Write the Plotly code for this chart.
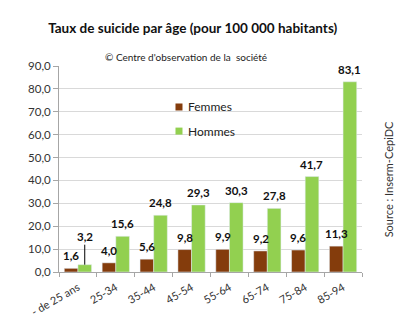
import plotly.graph_objects as go

# Age groups and suicide rates per 100 000 inhabitants
age_groups = ["- de 25 ans", "25-34", "35-44", "45-54", "55-64", "65-74", "75-84", "85-94"]
femmes = [1.6, 4.0, 5.6, 9.8, 9.9, 9.2, 9.6, 11.3]
hommes = [3.2, 15.6, 24.8, 29.3, 30.3, 27.8, 41.7, 83.1]
y_ticks = [0, 10, 20, 30, 40, 50, 60, 70, 80, 90]
series_names = ["Femmes", "Hommes"]

BROWN = "#843C0C"
GREEN = "#92D050"
FONT = "Lato, 'Liberation Sans', Arial, sans-serif"

fig = go.Figure()
fig.add_trace(go.Bar(x=age_groups, y=femmes, name=series_names[0], marker_color=BROWN,
                     showlegend=False))
fig.add_trace(go.Bar(x=age_groups, y=hommes, name=series_names[1], marker_color=GREEN,
                     showlegend=False))


def fmt(v):
    return f"{v:.1f}".replace(".", ",")


label_font = dict(size=11.5, color="#111", family=FONT, weight="bold")

# value labels above each bar
annotations = []
half = 6.8  # horizontal offset (px) of each bar from its category centre
for i, cat in enumerate(age_groups):
    annotations.append(dict(x=cat, y=femmes[i], text=fmt(femmes[i]), xshift=-half,
                            yshift=4, yanchor="bottom", showarrow=False, font=label_font))
    if i == 0:
        # small bar: label lifted with a leader line
        annotations.append(dict(x=cat, y=hommes[i], text=fmt(hommes[i]), xshift=half,
                                showarrow=True, arrowhead=0, arrowwidth=1, arrowcolor="#000",
                                ax=0, ay=-28, standoff=0, font=label_font))
    else:
        annotations.append(dict(x=cat, y=hommes[i], text=fmt(hommes[i]), xshift=half,
                                yshift=4, yanchor="bottom", showarrow=False, font=label_font))

# legend: coloured squares with their series names
shapes = []
legend_rows = [(series_names[0], BROWN, 0.801), (series_names[1], GREEN, 0.684)]
for name, color, ypos in legend_rows:
    shapes.append(dict(type="rect", xref="paper", yref="paper",
                       xsizemode="pixel", ysizemode="pixel",
                       xanchor=0.396, yanchor=ypos, x0=-3.5, x1=3.5, y0=-3.5, y1=3.5,
                       fillcolor=color, line=dict(width=0)))
    annotations.append(dict(xref="paper", yref="paper", x=0.419, y=ypos, xanchor="left",
                            yanchor="middle", showarrow=False, text=name,
                            font=dict(size=12, color="#222", family=FONT)))

annotations.append(dict(xref="paper", yref="paper", x=0.42, y=1.045, xanchor="center",
                        yanchor="middle", showarrow=False,
                        text="© Centre d'observation de la  société",
                        font=dict(size=10, color="#222", family=FONT)))
annotations.append(dict(xref="paper", yref="paper", x=1.086, y=0.45, xanchor="center",
                        yanchor="middle", showarrow=False, textangle=-90,
                        text="Source : Inserm-CepiDC",
                        font=dict(size=11, color="#333", family=FONT)))

fig.update_layout(
    width=410, height=330,
    margin=dict(l=59, r=48, t=66, b=58),
    paper_bgcolor="white", plot_bgcolor="white",
    separators=",.",
    barmode="group", bargap=0.28, bargroupgap=0,
    showlegend=False,
    title=dict(text="Taux de suicide par âge (pour 100 000 habitants)",
               x=0.47, xanchor="center", y=0.915, yanchor="middle",
               font=dict(size=13.5, color="#111", family=FONT, weight="bold")),
    font=dict(family=FONT, color="#333"),
    xaxis=dict(tickangle=-30, tickfont=dict(size=11, color="#333"),
               range=[-0.5, len(age_groups) - 0.5],
               showline=True, linecolor="#A6A6A6", linewidth=1,
               ticks="outside", tickson="boundaries", ticklen=4, tickcolor="#A6A6A6",
               ticklabelstandoff=4),
    yaxis=dict(range=[0, 90], tickvals=y_ticks, tickformat=".1f",
               tickfont=dict(size=11.5, color="#333"),
               showgrid=True, gridcolor="#D9D9D9", gridwidth=1,
               showline=True, linecolor="#A6A6A6", linewidth=1,
               ticks="outside", ticklen=5, tickcolor="#A6A6A6", zeroline=False),
    shapes=shapes,
    annotations=annotations,
)

fig.write_html("out.html")
